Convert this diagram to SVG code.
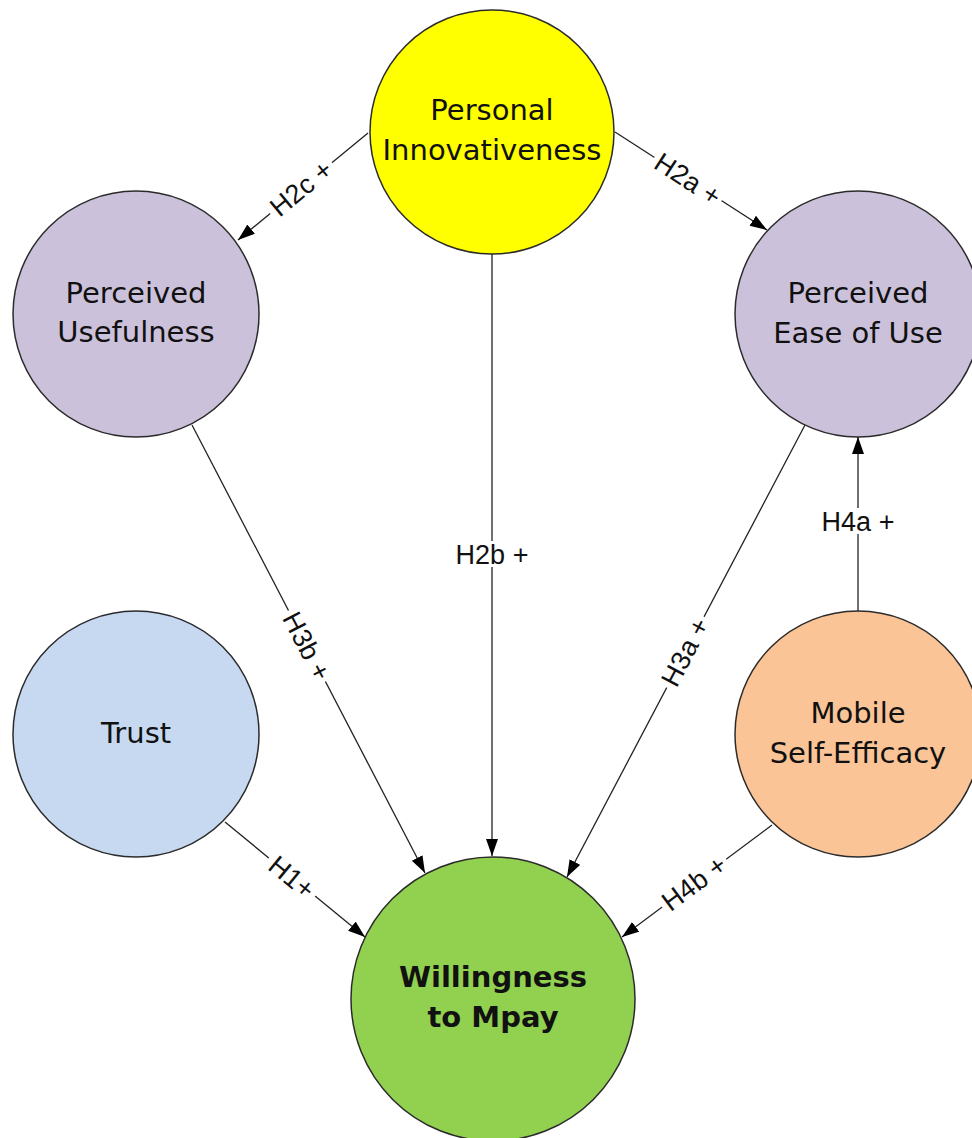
<svg xmlns="http://www.w3.org/2000/svg" width="972" height="1138" viewBox="0 0 972 1138">
<style>
.node{stroke:#2b2b2b;stroke-width:1.5}
.nt{font-family:"DejaVu Sans",Verdana,sans-serif;font-size:29px;fill:#111;text-anchor:middle}
.bold{font-weight:bold}
.edge{stroke:#222;stroke-width:1.3;fill:none;marker-end:url(#arr)}
.lb{font-family:"Liberation Sans",Arial,sans-serif;font-size:27px;fill:#111;text-anchor:middle}
.bg{fill:#fff}
</style>
<defs>
<marker id="arr" markerUnits="userSpaceOnUse" markerWidth="18" markerHeight="14" refX="17" refY="6" orient="auto">
<path d="M0,0 L17,6 L0,12 z" fill="#000"/>
</marker>
</defs>
<rect width="972" height="1138" fill="#fff"/>

<g id="personal-innovativeness">
<circle class="node" cx="492" cy="132" r="122" fill="#FFFF00"/>
<text class="nt" x="492" y="120">Personal</text>
<text class="nt" x="492" y="160">Innovativeness</text>
</g>
<g id="perceived-usefulness">
<circle class="node" cx="136" cy="314" r="123" fill="#CCC1DA"/>
<text class="nt" x="136" y="303">Perceived</text>
<text class="nt" x="136" y="342">Usefulness</text>
</g>
<g id="perceived-ease-of-use">
<circle class="node" cx="858" cy="314" r="123" fill="#CCC1DA"/>
<text class="nt" x="858" y="303">Perceived</text>
<text class="nt" x="858" y="343">Ease of Use</text>
</g>
<g id="trust">
<circle class="node" cx="136" cy="734" r="123" fill="#C6D9F0"/>
<text class="nt" x="136" y="743">Trust</text>
</g>
<g id="mobile-self-efficacy">
<circle class="node" cx="858" cy="734" r="123" fill="#FAC497"/>
<text class="nt" x="858" y="723">Mobile</text>
<text class="nt" x="858" y="763">Self-Efficacy</text>
</g>
<g id="willingness-to-mpay">
<circle class="node" cx="493" cy="999" r="142" fill="#92D050"/>
<text class="nt bold" x="493" y="987">Willingness</text>
<text class="nt bold" x="493" y="1027">to Mpay</text>
</g>

<g id="connectors">
<line class="edge" x1="368" y1="133" x2="238" y2="240"/>
<g transform="translate(301,188) rotate(-39.5)"><rect class="bg" x="-40" y="-12" width="80" height="24"/><text class="lb" y="9.5">H2c +</text></g>

<line class="edge" x1="615" y1="132" x2="767" y2="230"/>
<g transform="translate(688,179) rotate(32.8)"><rect class="bg" x="-40" y="-12" width="80" height="24"/><text class="lb" y="9.5">H2a +</text></g>

<line class="edge" x1="492" y1="254" x2="492" y2="856"/>
<g transform="translate(492,554)"><rect class="bg" x="-42" y="-13" width="84" height="26"/><text class="lb" y="9.5">H2b +</text></g>

<line class="edge" x1="192" y1="425" x2="425" y2="873"/>
<g transform="translate(307,646) rotate(62.5)"><rect class="bg" x="-40" y="-12" width="80" height="24"/><text class="lb" y="9.5">H3b +</text></g>

<line class="edge" x1="805" y1="425" x2="567" y2="877"/>
<g transform="translate(685,652) rotate(-62.2)"><rect class="bg" x="-40" y="-12" width="80" height="24"/><text class="lb" y="9.5">H3a +</text></g>

<line class="edge" x1="225" y1="822" x2="365" y2="937"/>
<g transform="translate(292,877) rotate(39.4)"><rect class="bg" x="-30" y="-12" width="60" height="24"/><text class="lb" y="9.5">H1+</text></g>

<line class="edge" x1="772" y1="825" x2="622" y2="937"/>
<g transform="translate(694,883) rotate(-36.7)"><rect class="bg" x="-40" y="-12" width="80" height="24"/><text class="lb" y="9.5">H4b +</text></g>

<line class="edge" x1="858" y1="611" x2="858" y2="437"/>
<g transform="translate(858,521)"><rect class="bg" x="-42" y="-13" width="84" height="26"/><text class="lb" y="9.5">H4a +</text></g>
</g>
</svg>
